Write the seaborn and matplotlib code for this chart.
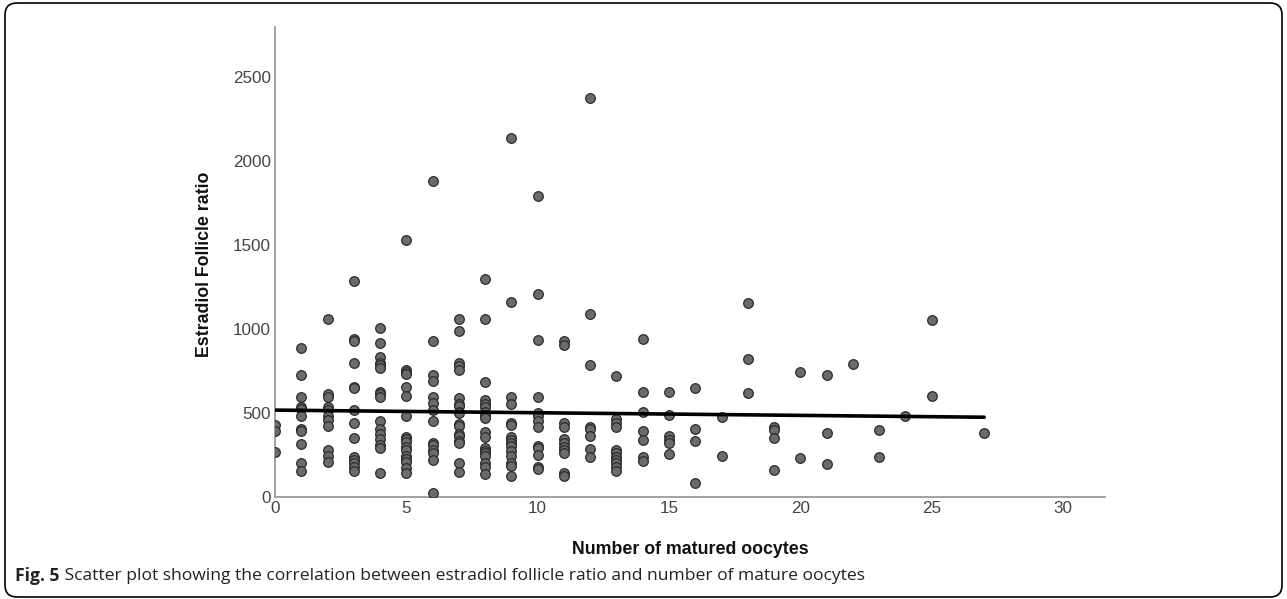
import matplotlib
matplotlib.use("Agg")
import matplotlib.pyplot as plt
import seaborn as sns
import pandas as pd
from matplotlib.patches import FancyBboxPatch
from matplotlib.transforms import IdentityTransform

# ---- data ----
oocytes = (
    [0] * 3 + [1] * 11 + [2] * 11 + [3] * 14 + [4] * 16 + [5] * 17 + [6] * 14 +
    [7] * 18 + [8] * 18 + [9] * 15 + [10] * 13 + [11] * 11 + [12] * 8 + [13] * 11 +
    [14] * 7 + [15] * 6 + [16] * 4 + [17] * 2 + [18] * 3 + [19] * 4 + [20] * 2 +
    [21] * 3 + [22] * 1 + [23] * 2 + [24] * 1 + [25] * 2 + [27] * 1
)
ratio = [
    429, 393, 268,
    889, 724, 593, 537, 524, 484, 408, 393, 315, 204, 157,
    1059, 613, 593, 534, 518, 484, 458, 422, 280, 244, 206,
    1287, 940, 928, 801, 656, 650, 518, 438, 349, 240, 220, 200, 176, 157,
    1004, 918, 835, 799, 785, 770, 627, 613, 597, 454, 408, 375, 343, 309, 289, 141,
    1529, 756, 746, 732, 653, 601, 484, 359, 343, 325, 299, 280, 244, 224, 210, 170, 141,
    1885, 928, 726, 692, 597, 561, 518, 454, 323, 309, 280, 264, 220, 25,
    1063, 988, 799, 780, 756, 587, 557, 541, 508, 498, 432, 422, 375, 365, 335, 319, 200, 151,
    1301, 1063, 686, 577, 557, 537, 508, 488, 468, 389, 355, 289, 276, 260, 244, 200, 180, 135,
    2141, 1162, 597, 557, 442, 428, 359, 339, 323, 303, 276, 244, 200, 184, 125,
    1794, 1212, 938, 597, 502, 482, 454, 415, 303, 289, 250, 176, 164,
    928, 905, 438, 418, 343, 319, 299, 280, 264, 141, 125,
    2379, 1089, 789, 415, 405, 363, 283, 236,
    722, 464, 442, 418, 280, 260, 240, 220, 200, 176, 157,
    944, 627, 508, 395, 339, 240, 216,
    623, 488, 363, 339, 323, 254,
    650, 403, 333, 85,
    478, 244,
    1153, 825, 617,
    418, 399, 349, 160,
    746, 234,
    726, 379, 194,
    791,
    399, 240,
    482,
    1057, 601,
    383,
]
x_ticks = [0, 5, 10, 15, 20, 25, 30]
y_ticks = [0, 500, 1000, 1500, 2000, 2500]
x_label = "Number of matured oocytes"
y_label = "Estradiol Follicle ratio"
caption_bold = "Fig. 5"
caption_text = " Scatter plot showing the correlation between estradiol follicle ratio and number of mature oocytes"

df = pd.DataFrame({"oocytes": oocytes, "ratio": ratio})

sns.set_style("white")
plt.rcParams["font.family"] = ["Liberation Sans", "DejaVu Sans"]

W, H = 1287, 599
fig = plt.figure(figsize=(W / 100, H / 100), dpi=100)
ax = fig.add_axes([275 / W, 1 - 497 / H, 830 / W, 470 / H])

sns.regplot(
    data=df, x="oocytes", y="ratio", ax=ax, ci=None, color="#6b6b6b",
    scatter_kws=dict(s=48, edgecolor="#2b2b2b", linewidths=0.9, alpha=1, zorder=3),
    line_kws=dict(color="black", lw=2.6, zorder=4),
)

ax.set_xlim(0, 31.6)
ax.set_ylim(0, 2800)
ax.set_xticks(x_ticks)
ax.set_yticks(y_ticks)
ax.tick_params(length=0, labelsize=12.3, labelcolor="#454545", pad=3)
for s in ["top", "right"]:
    ax.spines[s].set_visible(False)
for s in ["left", "bottom"]:
    ax.spines[s].set_color("#9a9a9a")
    ax.spines[s].set_linewidth(1.3)

ax.set_xlabel(x_label, fontsize=12.8, fontweight="bold", color="#111111")
ax.set_ylabel(y_label, fontsize=12.8, fontweight="bold", color="#111111")
ax.xaxis.set_label_coords(0.5, -0.093)
ax.yaxis.set_label_coords(-0.075, 0.495)

# figure border (rounded frame)
frame = FancyBboxPatch((5, 2), W - 10, H - 5, boxstyle="round,pad=0,rounding_size=12",
                       transform=IdentityTransform(), fill=False, ec="black", lw=1.2)
fig.add_artist(frame)

# caption
cy = 1 - 576 / H
t1 = fig.text(15 / W, cy, caption_bold, fontsize=12.6, fontweight="bold",
              family=["Open Sans", "DejaVu Sans"], va="center", ha="left", color="#222222")
fig.canvas.draw()
bb = t1.get_window_extent(renderer=fig.canvas.get_renderer())
fig.text(bb.x1 / W, cy, caption_text, fontsize=12.6,
         family=["Open Sans", "DejaVu Sans"], va="center", ha="left", color="#222222")

fig.savefig("out.png", dpi=100)
